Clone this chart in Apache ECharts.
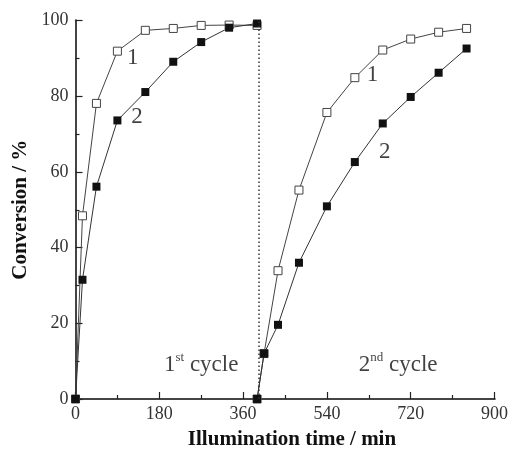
<!DOCTYPE html>
<html>
<head>
<meta charset="utf-8">
<script src="https://cdn.jsdelivr.net/npm/echarts@6/dist/echarts.min.js"></script>
<style>
  html, body {margin: 0; padding: 0; background: #fff}
  #chart {width: 511px; height: 455px}
</style>
</head>
<body>
<div id="chart"></div>
<script>
// time points (min)
const timeCycle1 = [0, 15, 45, 90, 150, 210, 270, 330, 390]
const timeCycle2 = [390, 405, 435, 480, 540, 600, 660, 720, 780, 840]

// conversion (%)
const conv1Cycle1 = [0, 48.4, 78.1, 91.9, 97.4, 97.9, 98.7, 98.8, 98.7]
const conv2Cycle1 = [0, 31.5, 56.1, 73.6, 81.1, 89.1, 94.3, 98.1, 99.2]
const conv1Cycle2 = [0, 12.0, 33.9, 55.2, 75.7, 84.9, 92.2, 95.1, 96.9, 97.9]
const conv2Cycle2 = [0, 12.0, 19.6, 36.0, 50.9, 62.6, 72.8, 79.8, 86.2, 92.6]

const xTicks = [0, 180, 360, 540, 720, 900]
const yTicks = [0, 20, 40, 60, 80, 100]
const cycleDivider = 394

// annotations: [x, y, text]
const notes = [
  [123, 90.2, '{n|1}'],
  [132, 74.5, '{n|2}'],
  [638, 85.7, '{n|1}'],
  [664, 65.3, '{n|2}'],
  [270, 9.0, '{n|1}{s|st}{n| cycle}'],
  [693, 9.0, '{n|2}{s|nd}{n| cycle}'],
]

const serif = 'Liberation Serif'
const pair = (xs, ys) => xs.map((x, i) => [x, ys[i]])

const openStyle = {
  type: 'line', symbol: 'rect', symbolSize: 8,
  lineStyle: {color: '#444', width: 1},
  itemStyle: {color: '#fff', borderColor: '#444', borderWidth: 1},
  z: 2,
}
const fillStyle = {
  type: 'line', symbol: 'rect', symbolSize: 8,
  lineStyle: {color: '#333', width: 1},
  itemStyle: {color: '#111', borderWidth: 0},
  z: 3,
}

const chart = echarts.init(document.getElementById('chart'))
chart.setOption({
  animation: false,
  backgroundColor: '#fff',
  grid: {left: 75.5, right: 16, top: 20.5, bottom: 52.3},
  xAxis: [{
    type: 'value', min: xTicks[0], max: xTicks[xTicks.length - 1], interval: 180,
    name: 'Illumination time / min', nameLocation: 'middle', nameGap: 30,
    nameTextStyle: {fontFamily: serif, fontWeight: 'bold', fontSize: 21, color: '#111', padding: [0, 0, 0, 14]},
    axisLine: {lineStyle: {color: '#222', width: 2}},
    axisTick: {inside: true, length: 7, lineStyle: {color: '#222', width: 1.2}},
    minorTick: {show: true, splitNumber: 2, length: 4, lineStyle: {color: '#222', width: 1.2}},
    axisLabel: {fontFamily: serif, fontSize: 18, color: '#333', margin: 6},
    splitLine: {show: false},
  }, {
    type: 'value', position: 'top', min: 0, max: 900,
    axisLine: {show: true, lineStyle: {color: '#444', width: 2}},
    axisTick: {show: false}, axisLabel: {show: false}, splitLine: {show: false},
  }],
  yAxis: [{
    type: 'value', min: yTicks[0], max: yTicks[yTicks.length - 1], interval: 20,
    name: 'Conversion / %', nameLocation: 'middle', nameGap: 42, nameRotate: 90,
    nameTextStyle: {fontFamily: serif, fontWeight: 'bold', fontSize: 21, color: '#111'},
    axisLine: {show: true, lineStyle: {color: '#222', width: 2}},
    axisTick: {inside: true, length: 7, lineStyle: {color: '#222', width: 1.2}},
    minorTick: {show: true, splitNumber: 2, length: 4, lineStyle: {color: '#222', width: 1.2}},
    axisLabel: {fontFamily: serif, fontSize: 18, color: '#333', margin: 7},
    splitLine: {show: false},
  }, {
    type: 'value', position: 'right', min: 0, max: 100,
    axisLine: {show: true, lineStyle: {color: '#444', width: 2}},
    axisTick: {show: false}, axisLabel: {show: false}, splitLine: {show: false},
  }],
  series: [
    {...openStyle, data: pair(timeCycle1, conv1Cycle1),
      markLine: {
        silent: true, symbol: 'none', label: {show: false},
        lineStyle: {color: '#333', width: 1.5, type: [1.5, 2.5]},
        data: [{xAxis: cycleDivider}],
      }},
    {...openStyle, data: pair(timeCycle2, conv1Cycle2)},
    {...fillStyle, data: pair(timeCycle1, conv2Cycle1)},
    {...fillStyle, data: pair(timeCycle2, conv2Cycle2)},
    {
      type: 'scatter', symbolSize: 0, itemStyle: {color: 'transparent'}, silent: true, z: 5,
      data: notes.map(d => ({value: [d[0], d[1]], text: d[2]})),
      label: {
        show: true, position: 'inside',
        formatter: p => p.data.text,
        rich: {
          n: {fontFamily: serif, fontSize: 23, color: '#111'},
          s: {fontFamily: serif, fontSize: 13, color: '#111', padding: [0, 0, 14, 0]},
        },
      },
    },
  ],
})
</script>
</body>
</html>
